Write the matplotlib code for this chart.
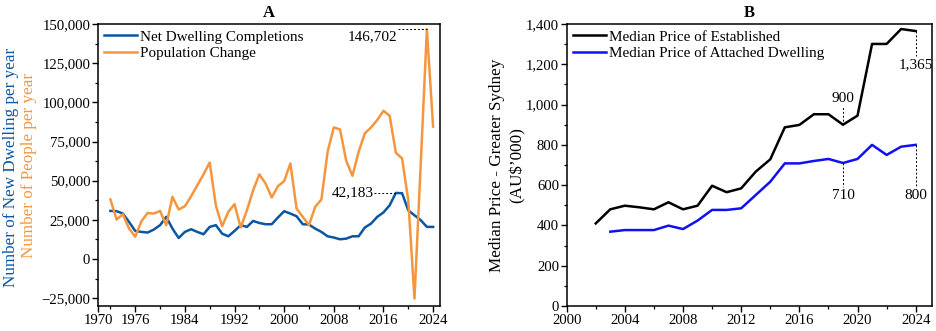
import matplotlib
matplotlib.use("Agg")
import matplotlib.pyplot as plt
import numpy as np

plt.rcParams['font.family'] = ['Liberation Serif', 'DejaVu Serif']
plt.rcParams['font.size'] = 11

# ---- panel A data ----
years_a = np.arange(1972, 2025)
dwellings = [30700, 30500, 29000, 23700, 17900, 17300, 16900, 18800, 21600, 26900,
             19400, 13400, 17300, 19000, 17300, 15800, 20500, 21600, 16200, 14500,
             17900, 21600, 20500, 24300, 23000, 22200, 22200, 26500, 30500, 29000,
             27300, 22200, 22000, 19400, 17300, 14500, 13700, 12600, 13000, 14500,
             14500, 20100, 22600, 26900, 29700, 34300, 42183, 42000, 31100, 27900,
             24800, 20500, 20500]
population = [38000, 25200, 28600, 19500, 14200, 24100, 29400, 29000, 30700, 21600,
              39700, 31600, 33700, 40000, 47000, 54000, 61600, 34000, 20900, 30100,
              35000, 20100, 31100, 43900, 54000, 48200, 39300, 46500, 49700, 61000,
              32200, 26900, 21600, 33300, 38000, 68400, 84000, 82700, 62700, 53100,
              68400, 80200, 84000, 88700, 94600, 91400, 67800, 64200, 37500, -25300,
              60000, 146702, 84500]

# ---- panel B data ----
years_est = np.arange(2002, 2025)
price_est = [410, 480, 498, 490, 480, 515, 480, 498, 597, 565, 584, 667, 728, 887,
             899, 952, 952, 900, 945, 1301, 1301, 1375, 1365]
years_att = np.arange(2003, 2025)
price_att = [369, 377, 377, 377, 399, 382, 424, 477, 477, 485, 551, 617, 708, 708,
             720, 730, 710, 730, 800, 750, 791, 800]

blue_a = '#0b56a4'
orange_a = '#f5963f'
tick_fs = 10.6
leg_fs = 10.9

fig = plt.figure(figsize=(9.36, 3.31), dpi=100)
axA = fig.add_axes([0.1047, 0.0755, 0.3653, 0.852])
axB = fig.add_axes([0.6054, 0.0755, 0.3900, 0.852])

for ax in (axA, axB):
    for s in ax.spines.values():
        s.set_linewidth(1.1)
    ax.tick_params(direction='out', length=4, width=1.0, labelsize=tick_fs, pad=1.5)
    ax.tick_params(which='minor', direction='out', length=2.5, width=0.9)

# <===== panel A =====>
axA.plot(years_a, dwellings, color=blue_a, lw=1.8, label='Net Dwelling Completions')
axA.plot(years_a, population, color=orange_a, lw=1.8, label='Population Change')
axA.set_xlim(1970, 2025.1)
axA.set_ylim(-30000, 150000)
axA.set_xticks([1970, 1976, 1984, 1992, 2000, 2008, 2016, 2024])
axA.set_xticks([1972, 1980, 1988, 1996, 2004, 2012, 2020], minor=True)
axA.set_yticks(np.arange(-25000, 150001, 25000))
axA.set_yticks(np.arange(-12500, 150000, 25000), minor=True)
axA.set_yticklabels(['\u221225,000' if v < 0 else f'{v:,}' for v in np.arange(-25000, 150001, 25000)])
axA.set_title('A', fontweight='bold', fontsize=12, pad=5)
axA.legend(loc='upper left', frameon=False, fontsize=leg_fs, handlelength=2.2,
           handletextpad=0.2, borderaxespad=0.2, labelspacing=0.2, borderpad=0.2)

# annotations A
axA.plot([2018.3, 2023], [146702, 146702], ls=(0, (2, 2)), color='k', lw=0.7)
axA.text(2018.2, 142000, '146,702', ha='right', va='center', fontsize=11)
axA.plot([2014.5, 2018], [42183, 42183], ls=(0, (2, 2)), color='k', lw=0.7)
axA.text(2014.4, 42183, '42,183', ha='right', va='center', fontsize=11)

fig.text(0.012, 0.495, 'Number of New Dwelling per year', rotation=90, color=blue_a,
         ha='center', va='center', fontsize=12.3)
fig.text(0.031, 0.5, 'Number of People per year', rotation=90, color=orange_a,
         ha='center', va='center', fontsize=12.3)

# <===== panel B =====>
axB.plot(years_est, price_est, color='black', lw=1.8, label='Median Price of Established')
axB.plot(years_att, price_att, color='#1010f5', lw=1.8, label='Median Price of Attached Dwelling')
axB.set_xlim(2000, 2025.1)
axB.set_ylim(0, 1400)
axB.set_xticks(np.arange(2000, 2025, 4))
axB.set_xticks(np.arange(2002, 2025, 4), minor=True)
axB.set_yticks(np.arange(0, 1401, 200))
axB.set_yticks(np.arange(100, 1400, 200), minor=True)
axB.set_yticklabels([f'{v:,}' for v in np.arange(0, 1401, 200)])
axB.set_title('B', fontweight='bold', fontsize=12, pad=5)
axB.legend(loc='upper left', frameon=False, fontsize=leg_fs, handlelength=2.2,
           handletextpad=0.2, borderaxespad=0.2, labelspacing=0.2, borderpad=0.2)
axB.set_ylabel('Median Price - Greater Sydney\n(AU$\u2019000)', fontsize=12.3, labelpad=0.5,
               linespacing=1.35)

# annotations B
dash = dict(ls=(0, (2, 2)), color='k', lw=0.7)
axB.plot([2019, 2019], [900, 995], **dash)
axB.text(2019, 1000, '900', ha='center', va='bottom', fontsize=11)
axB.plot([2024, 2024], [1365, 1240], **dash)
axB.text(2024, 1230, '1,365', ha='center', va='top', fontsize=11)
axB.plot([2019, 2019], [710, 590], **dash)
axB.text(2019, 580, '710', ha='center', va='top', fontsize=11)
axB.plot([2024, 2024], [800, 590], **dash)
axB.text(2024, 580, '800', ha='center', va='top', fontsize=11)

fig.savefig('out.png', dpi=100)
